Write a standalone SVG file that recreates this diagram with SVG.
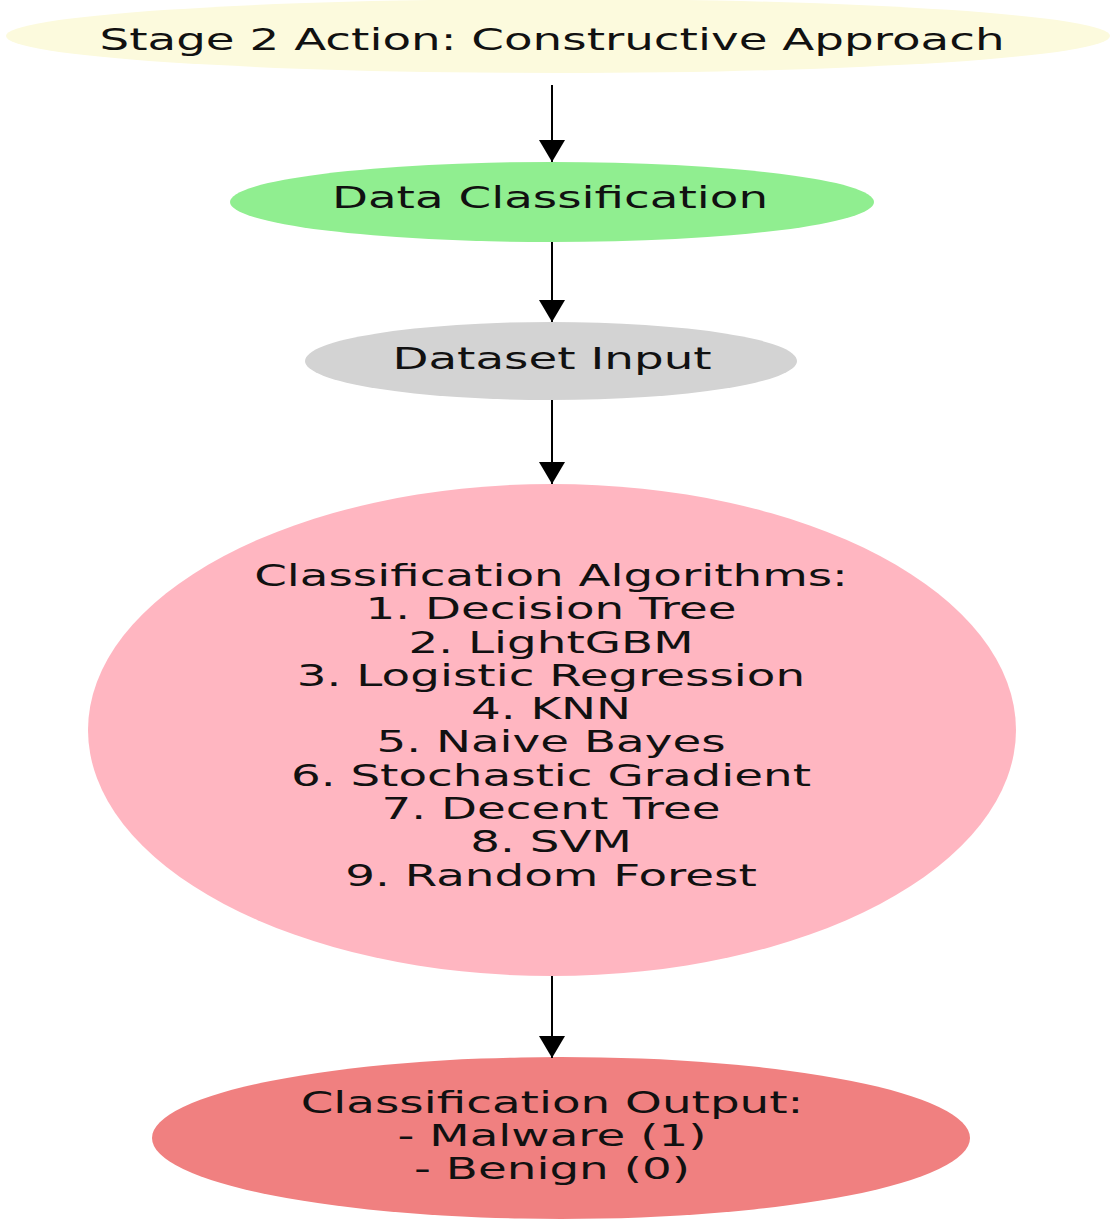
<svg xmlns="http://www.w3.org/2000/svg" width="1116" height="1219" viewBox="0 0 1116 1219">
  <style>
    .lbl { font-family: "DejaVu Sans", "Liberation Sans", sans-serif; font-size: 30px; fill: #111; text-anchor: middle; }
    .edge { stroke: #000; stroke-width: 2; fill: none; }
  </style>
  <defs>
    <marker id="arrow" markerUnits="userSpaceOnUse" markerWidth="24" markerHeight="26" refX="22" refY="13" orient="auto">
      <path d="M0,0 L22,13 L0,26 z" fill="#000"/>
    </marker>
  </defs>
  <rect width="1116" height="1219" fill="#fff"/>

  <g id="stage2">
    <ellipse cx="558" cy="36" rx="552" ry="37" fill="#fcfadd"/>
    <g transform="translate(552,0) scale(1.56,1)">
      <text class="lbl" x="0" y="50">Stage 2 Action: Constructive Approach</text>
    </g>
  </g>

  <g id="data-classification">
    <ellipse cx="552" cy="202" rx="322" ry="40" fill="#90ee90"/>
    <g transform="translate(550,0) scale(1.56,1)">
      <text class="lbl" x="0" y="208">Data Classification</text>
    </g>
  </g>

  <g id="dataset-input">
    <ellipse cx="551" cy="361" rx="246" ry="39" fill="#d3d3d3"/>
    <g transform="translate(552,0) scale(1.56,1)">
      <text class="lbl" x="0" y="369">Dataset Input</text>
    </g>
  </g>

  <g id="algorithms">
    <ellipse cx="552" cy="730" rx="464" ry="246" fill="#ffb6c1"/>
    <g transform="translate(551,0) scale(1.56,1)">
      <text class="lbl" x="0" y="586">Classification Algorithms:</text>
      <text class="lbl" x="0" y="619.3">1. Decision Tree</text>
      <text class="lbl" x="0" y="652.6">2. LightGBM</text>
      <text class="lbl" x="0" y="685.9">3. Logistic Regression</text>
      <text class="lbl" x="0" y="719.2">4. KNN</text>
      <text class="lbl" x="0" y="752.5">5. Naive Bayes</text>
      <text class="lbl" x="0" y="785.8">6. Stochastic Gradient</text>
      <text class="lbl" x="0" y="819.1">7. Decent Tree</text>
      <text class="lbl" x="0" y="852.4">8. SVM</text>
      <text class="lbl" x="0" y="885.7">9. Random Forest</text>
    </g>
  </g>

  <g id="output">
    <ellipse cx="561" cy="1138" rx="409" ry="81" fill="#f08080"/>
    <g transform="translate(552,0) scale(1.56,1)">
      <text class="lbl" x="0" y="1113">Classification Output:</text>
      <text class="lbl" x="0" y="1146">- Malware (1)</text>
      <text class="lbl" x="0" y="1179">- Benign (0)</text>
    </g>
  </g>

  <g id="connectors">
    <line class="edge" x1="552" y1="85" x2="552" y2="162" marker-end="url(#arrow)"/>
    <line class="edge" x1="552" y1="242" x2="552" y2="322" marker-end="url(#arrow)"/>
    <line class="edge" x1="552" y1="400" x2="552" y2="484" marker-end="url(#arrow)"/>
    <line class="edge" x1="552" y1="976" x2="552" y2="1058" marker-end="url(#arrow)"/>
  </g>
</svg>
